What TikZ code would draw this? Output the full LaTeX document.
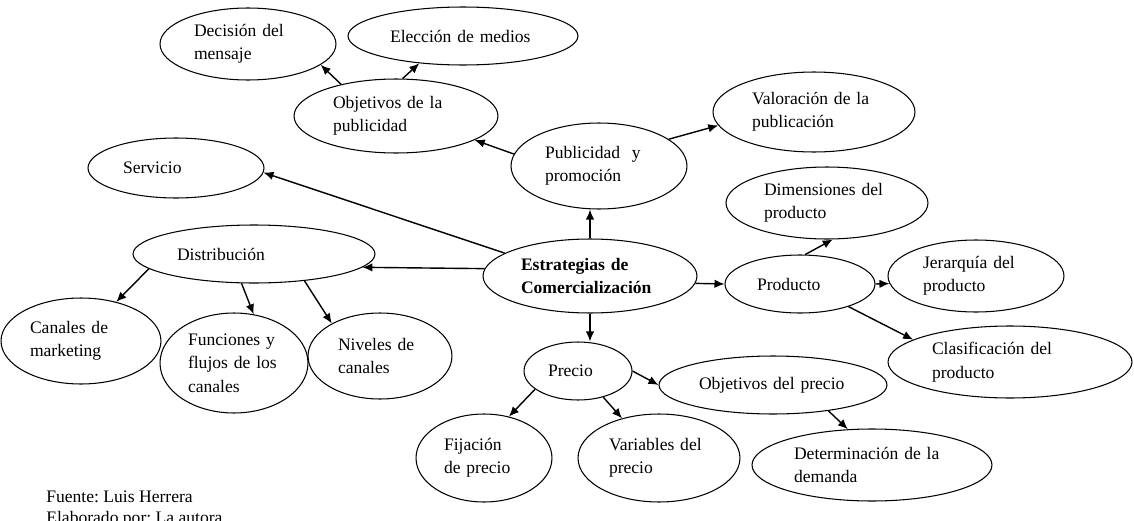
\documentclass[tikz,border=0pt]{standalone}
\usepackage{fontspec}
\setmainfont{Liberation Serif}
\usetikzlibrary{shapes.geometric, arrows.meta, positioning}
\frenchspacing

\begin{document}
\begin{tikzpicture}[x=0.02cm, y=-0.02cm,
  oval/.style={ellipse, draw, line width=0.6pt, inner sep=0pt, align=left,
    font=\fontsize{10}{13.3}\selectfont},
  link/.style={-{Latex[length=2mm,width=1.7mm]}, line width=0.8pt}]
  \useasboundingbox (0,0) rectangle (1134,521);

  % centre
  \node[oval, minimum width=4.28cm, minimum height=1.48cm, text width=2.76cm,
        font=\fontsize{10}{13.3}\selectfont\bfseries]
    (estr) at (590,276) {Estrategias de\\Comercializaci\'on};

  % publicidad
  \node[oval, minimum width=3.52cm, minimum height=1.72cm, text width=2.16cm]
    (pub) at (599,166) {Publicidad~ y\\promoci\'on};
  \node[oval, minimum width=4.08cm, minimum height=1.48cm, text width=2.52cm]
    (objpub) at (396,116) {Objetivos de la\\publicidad};
  \node[oval, minimum width=3.52cm, minimum height=1.44cm, text width=2.16cm]
    (dec) at (248,44) {Decisi\'on del\\mensaje};
  \node[oval, minimum width=4.60cm, minimum height=1.16cm, text width=2.92cm]
    (elec) at (463,36) {Elecci\'on de medios};
  \node[oval, minimum width=4.04cm, minimum height=1.60cm, text width=2.48cm]
    (val) at (814,112) {Valoraci\'on de la\\publicaci\'on};

  \node[oval, minimum width=3.52cm, minimum height=1.20cm, text width=2.12cm]
    (serv) at (176,168) {Servicio};

  % producto
  \node[oval, minimum width=3.00cm, minimum height=1.16cm, text width=1.72cm]
    (prod) at (800,284) {Producto};
  \node[oval, minimum width=4.04cm, minimum height=1.44cm, text width=2.52cm]
    (dim) at (827,203) {Dimensiones del\\producto};
  \node[oval, minimum width=3.52cm, minimum height=1.44cm, text width=2.12cm]
    (jer) at (976,276) {Jerarqu\'ia del\\producto};
  \node[oval, minimum width=4.88cm, minimum height=1.44cm, text width=3.12cm]
    (clas) at (1010,362) {Clasificaci\'on del\\producto};

  % distribucion
  \node[oval, minimum width=4.84cm, minimum height=1.16cm, text width=3.08cm]
    (dist) at (254,254) {Distribuci\'on};
  \node[oval, minimum width=3.20cm, minimum height=1.72cm, text width=2.04cm]
    (can) at (81,341) {Canales de\\marketing};
  \node[oval, minimum width=2.96cm, minimum height=2.00cm, text width=1.84cm]
    (fun) at (234,363) {Funciones y\\flujos de los\\canales};
  \node[oval, minimum width=2.88cm, minimum height=1.72cm, text width=1.68cm]
    (niv) at (380,356) {Niveles de\\canales};

  % precio
  \node[oval, minimum width=2.16cm, minimum height=1.16cm, text width=1.20cm]
    (prec) at (578,371) {Precio};
  \node[oval, minimum width=4.56cm, minimum height=1.16cm, text width=2.96cm]
    (objpre) at (773,385) {Objetivos del precio};
  \node[oval, minimum width=2.72cm, minimum height=1.76cm, text width=1.60cm]
    (fij) at (484,458) {Fijaci\'on\\de precio};
  \node[oval, minimum width=3.24cm, minimum height=1.76cm, text width=2.00cm]
    (var) at (659,458) {Variables del\\precio};
  \node[oval, minimum width=4.80cm, minimum height=1.44cm, text width=3.12cm]
    (det) at (872,465) {Determinaci\'on de la\\demanda};

  \node[anchor=west, align=left, inner sep=0pt, font=\fontsize{10}{11.5}\selectfont]
    (fuente) at (46,509) {Fuente: Luis Herrera\\Elaborado por: La autora};

  % arrows
  \draw[link] (estr.165) -- (serv.-3);
  \draw[link] (estr.176) -- (dist.-7);
  \draw[link] (estr.north) -- (estr.north |- pub.south);
  \draw[link] (estr.-4) -- (prod.west);
  \draw[link] (estr.south) -- (estr.south |- prec.north);

  \draw[link] (pub.172) -- (objpub.-17);
  \draw[link] (objpub.150) -- (dec.-16);
  \draw[link] (objpub.80) -- (elec.212);
  \draw[link] (pub.21) -- (val.188);

  \draw[link] (prod.80) -- (dim.-81);
  \draw[link] (prod.east) -- (jer.185);
  \draw[link] (prod.-25) -- (clas.167);

  \draw[link] (dist.188) -- (can.48);
  \draw[link] (dist.-113) -- (fun.68);
  \draw[link] (dist.-28) -- (niv.146);

  \draw[link] (prec.203) -- (fij.59);
  \draw[link] (prec.-46) -- (var.133);
  \draw[link] (prec.east) -- (objpre.west);
  \draw[link] (objpre.-25) -- (det.124);
\end{tikzpicture}
\end{document}
